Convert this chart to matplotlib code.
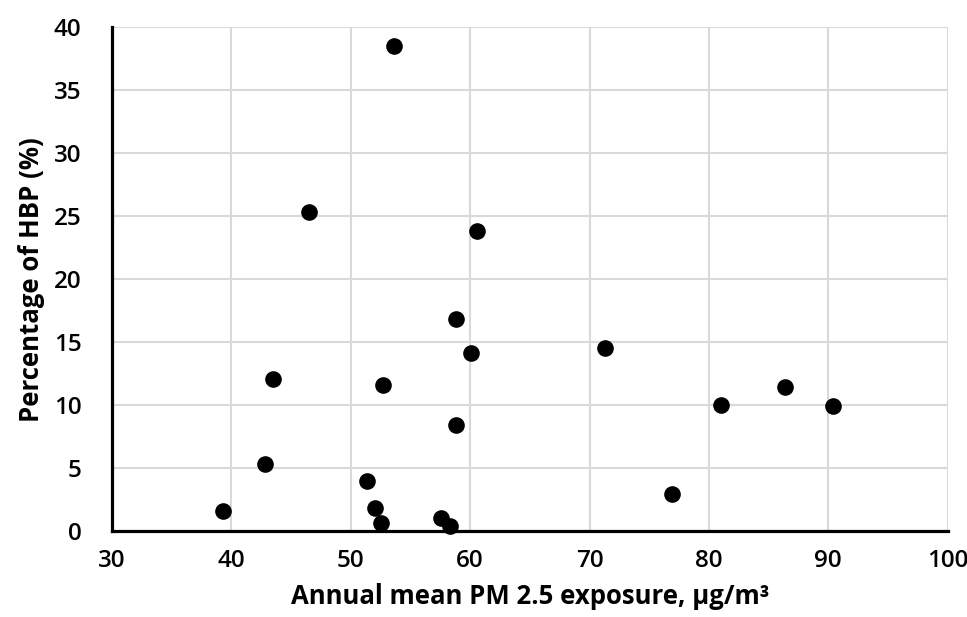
import matplotlib
matplotlib.use("Agg")
import matplotlib.pyplot as plt

# PM2.5 exposure vs percentage of HBP
pm25 = [53.6, 46.5, 60.6, 58.8, 60.1, 71.3, 43.5, 52.7, 86.4, 81.0,
        90.4, 58.8, 42.8, 51.4, 76.9, 39.3, 52.0, 52.5, 57.6, 58.3]
hbp = [38.5, 25.3, 23.8, 16.8, 14.1, 14.5, 12.1, 11.6, 11.4, 10.0,
       9.9, 8.4, 5.3, 4.0, 2.9, 1.6, 1.8, 0.6, 1.0, 0.4]

xticks = [30, 40, 50, 60, 70, 80, 90, 100]
yticks = [0, 5, 10, 15, 20, 25, 30, 35, 40]

plt.rcParams['font.family'] = ['Open Sans', 'DejaVu Sans']

fig = plt.figure(figsize=(9.67, 6.17), dpi=100)
ax = fig.add_axes([0.1158, 0.1394, 0.8642, 0.8164])

ax.scatter(pm25, hbp, s=120, color='black', zorder=3, clip_on=False)

ax.set_xlim(30, 100)
ax.set_ylim(0, 40)
ax.set_xticks(xticks)
ax.set_yticks(yticks)
ax.grid(True, color='#d9d9d9', linewidth=1.5)
ax.set_axisbelow(True)

for s in ['top', 'right']:
    ax.spines[s].set_visible(False)
for s in ['left', 'bottom']:
    ax.spines[s].set_linewidth(2.3)
    ax.spines[s].set_color('black')

ax.tick_params(axis='both', length=0, labelsize=17.5)
ax.tick_params(axis='y', pad=22)
ax.tick_params(axis='x', pad=13)
for lab in ax.get_xticklabels() + ax.get_yticklabels():
    lab.set_fontweight('semibold')

ax.set_xlabel('Annual mean PM 2.5 exposure, µg/m³', fontsize=18.5, fontweight='bold', labelpad=7)
ax.set_ylabel('Percentage of HBP (%)', fontsize=18.5, fontweight='bold', labelpad=6)

fig.savefig('out.png', dpi=100)
